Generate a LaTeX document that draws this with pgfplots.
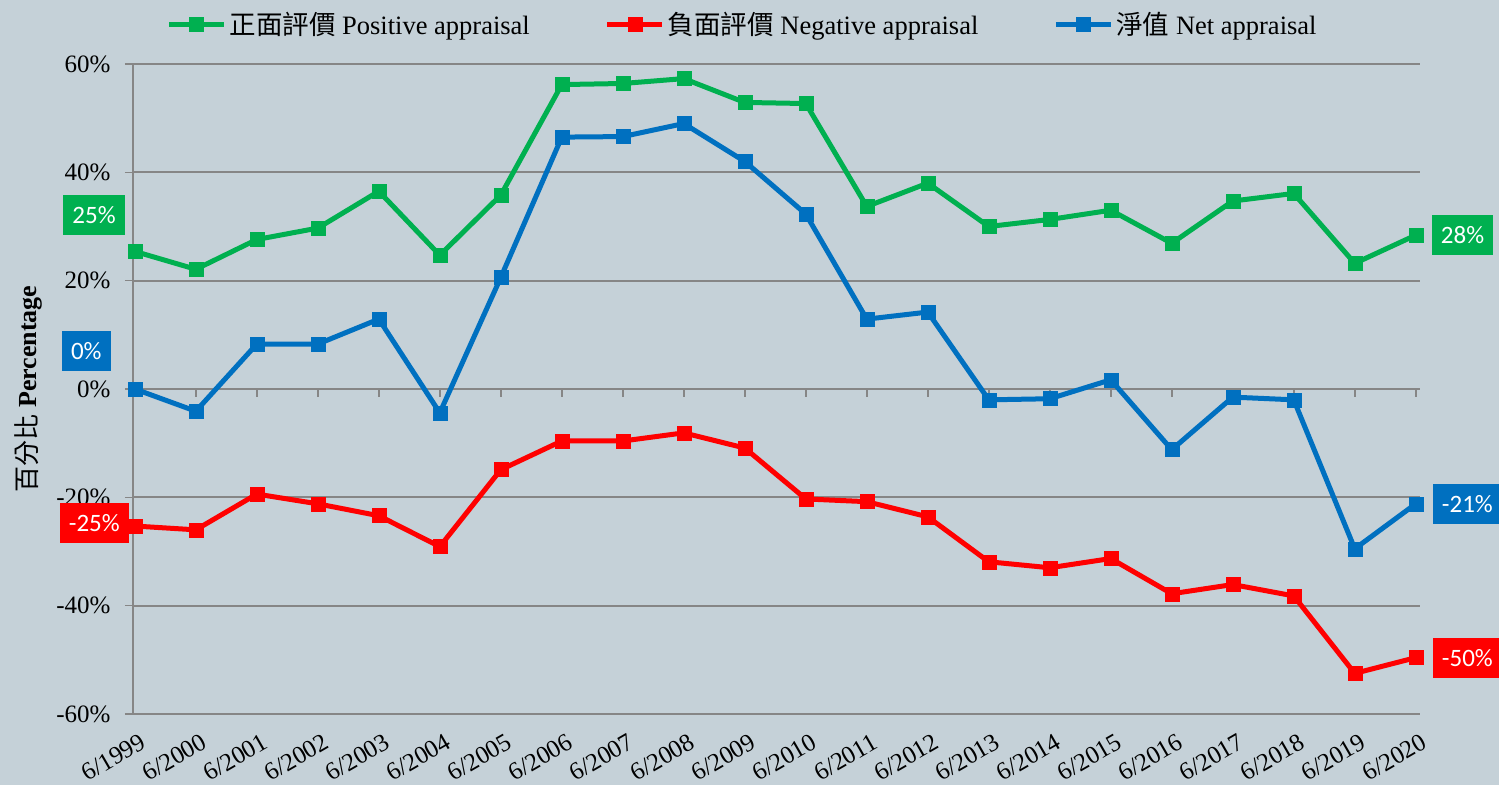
\documentclass[border=0pt]{standalone}
\usepackage{pgfplots}
\pgfplotsset{compat=1.18}
\usepackage{fontspec}
\setmainfont{Liberation Serif}
\newfontfamily\cjk{Noto Sans CJK TC}
\newfontfamily\lblfont{Carlito}
\definecolor{bg}{RGB}{197,209,216}
\definecolor{pgreen}{RGB}{0,176,80}
\definecolor{pred}{RGB}{255,0,0}
\definecolor{pblue}{RGB}{0,112,192}
\definecolor{gridc}{RGB}{134,134,134}
\begin{document}
\begin{tikzpicture}[x=1pt,y=1pt]
\useasboundingbox (0,0) rectangle (1499,785);
\fill[bg] (0,0) rectangle (1499,785);
\begin{axis}[
  at={(133pt,71pt)}, anchor=south west,
  scale only axis, width=1287pt, height=650pt,
  xmin=-0.03, xmax=21.07, ymin=-60, ymax=60,
  clip=false,
  separate axis lines,
  axis x line*=bottom, axis y line*=left,
  x axis line style={draw=none},
  y axis line style={gridc, line width=2pt},
  xtick={0,...,21},
  xticklabels={6/1999,6/2000,6/2001,6/2002,6/2003,6/2004,6/2005,6/2006,6/2007,6/2008,6/2009,6/2010,6/2011,6/2012,6/2013,6/2014,6/2015,6/2016,6/2017,6/2018,6/2019,6/2020},
  xtick style={draw=none},
  ytick={-60,-40,-20,0,20,40,60},
  yticklabels={-60\%,-40\%,-20\%,0\%,20\%,40\%,60\%},
  ytick style={gridc, line width=1.5pt},
  major tick length=8pt, tick align=outside,
  ymajorgrids, grid style={gridc, line width=1.8pt},
  ticklabel style={font=\fontsize{25}{30}\selectfont},
  yticklabel style={xshift=-11pt},
  xticklabel style={rotate=30, anchor=north east, yshift=-8pt, xshift=2pt},
  ylabel={{\cjk 百分比} \textbf{Percentage}},
  ylabel style={at={(axis description cs:-0.0816,0.5)}, anchor=center, font=\fontsize{26}{30}\selectfont},
  legend columns=3,
  legend style={at={(0.474,1.0615)}, anchor=center, draw=none, fill=none,
    font=\fontsize{26.5}{30}\selectfont,
    /tikz/every even column/.append style={column sep=72pt},
    nodes={inner xsep=3pt}},
  legend image code/.code={\draw[mark repeat=2,mark phase=2] plot coordinates {(0pt,0pt)(27.5pt,0pt)(55pt,0pt)};},
  every axis plot/.append style={line width=5pt, mark=square*, mark size=7pt, mark options={line width=0.5pt}},
]
\pgfplotsinvokeforeach{1,...,21}{\draw[gridc, line width=1.5pt] (axis cs:#1,0) -- ++(0pt,-8pt);}
\addplot[pgreen] coordinates {(0,25.4)(1,22.1)(2,27.6)(3,29.7)(4,36.5)(5,24.7)(6,35.8)(7,56.2)(8,56.4)(9,57.3)(10,52.9)(11,52.7)(12,33.7)(13,38.0)(14,30.0)(15,31.3)(16,33.0)(17,26.9)(18,34.7)(19,36.1)(20,23.2)(21,28.4)};
\addlegendentry{{\cjk 正面評價} Positive appraisal}
\addplot[pred] coordinates {(0,-25.3)(1,-26.0)(2,-19.4)(3,-21.2)(4,-23.4)(5,-29.1)(6,-14.9)(7,-9.6)(8,-9.6)(9,-8.1)(10,-10.9)(11,-20.3)(12,-20.8)(13,-23.6)(14,-31.9)(15,-33.0)(16,-31.3)(17,-37.8)(18,-36.1)(19,-38.2)(20,-52.5)(21,-49.6)};
\addlegendentry{{\cjk 負面評價} Negative appraisal}
\addplot[pblue] coordinates {(0,0)(1,-4.1)(2,8.3)(3,8.3)(4,12.9)(5,-4.4)(6,20.6)(7,46.5)(8,46.6)(9,49.0)(10,42.0)(11,32.3)(12,12.9)(13,14.2)(14,-2.0)(15,-1.8)(16,1.7)(17,-11.2)(18,-1.5)(19,-2.0)(20,-29.5)(21,-21.2)};
\addlegendentry{{\cjk 淨值} Net appraisal}
\tikzset{dl/.style={text=white, font=\lblfont\fontsize{25}{30}\selectfont, minimum height=40pt, inner xsep=9pt}}
\node[dl, fill=pgreen, anchor=east] at (axis cs:0,25.4) [xshift=-10pt, yshift=36pt] {25\%};
\node[dl, fill=pblue, anchor=center] at (axis cs:0,0) [xshift=-48.5pt, yshift=38pt] {0\%};
\node[dl, fill=pred, anchor=center] at (axis cs:0,-25.3) [xshift=-40.5pt, yshift=3pt] {-25\%};
\node[dl, fill=pgreen, anchor=west] at (axis cs:21,28.4) [xshift=16pt] {28\%};
\node[dl, fill=pblue, anchor=west] at (axis cs:21,-21.2) [xshift=17pt] {-21\%};
\node[dl, fill=pred, anchor=west] at (axis cs:21,-49.6) [xshift=17pt] {-50\%};
\end{axis}
\end{tikzpicture}
\end{document}
